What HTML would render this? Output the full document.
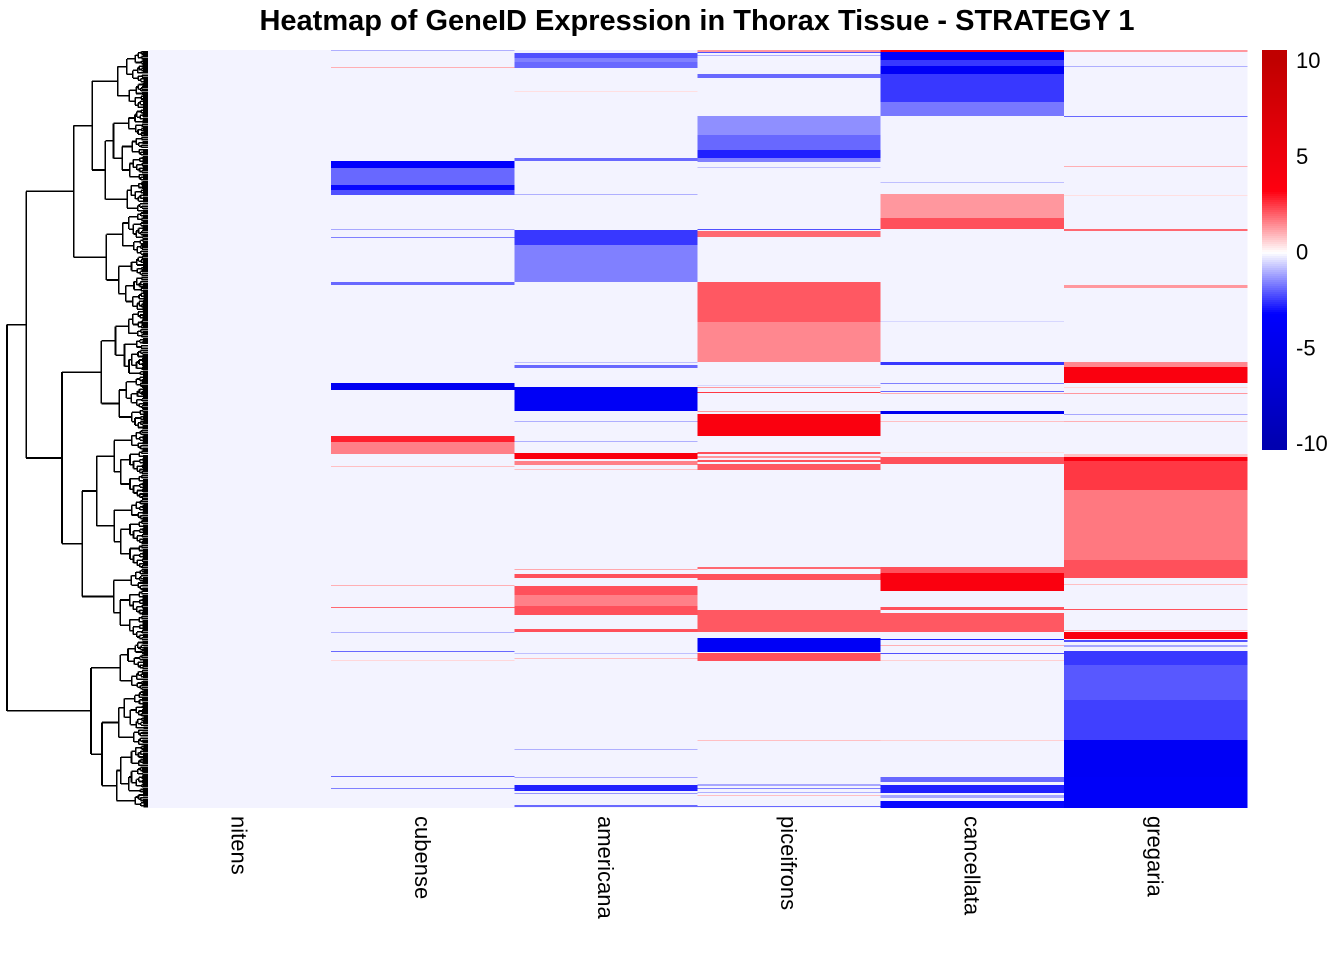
<!DOCTYPE html>
<html><head><meta charset="utf-8"><style>
body{margin:0;background:#fff;width:1344px;height:960px;overflow:hidden}
svg text{font-family:"Liberation Sans",Arial,sans-serif}
</style></head><body>
<svg id="chart" width="1344" height="960" xmlns="http://www.w3.org/2000/svg" shape-rendering="crispEdges">
<text x="697" y="30" text-anchor="middle" font-size="29" font-weight="bold">Heatmap of GeneID Expression in Thorax Tissue - STRATEGY 1</text>
<g id="dendro"></g>
<g id="cells"></g>
<g id="collabels"></g>
<g id="legend"></g>
</svg>
<script>
const columns = ["nitens","cubense","americana","piceifrons","cancellata","gregaria"];
const nRows = 758;
const baseline = -0.15;
const runsNitens = [];
const runsCubense = [[0,1,-1],[17,18,1],[111,118,-3.4],[118,135,-1.9],[135,140,-3.1],[140,145,-2.2],[179,180,-1.1],[187,188,-1.6],[232,235,-1.9],[333,340,-4.3],[386,392,2.8],[392,404,1.6],[416,417,0.8],[535,536,1],[557,558,1.9],[582,583,-1],[601,602,-1.9],[610,611,0.5],[726,727,-1.9],[738,739,-1.6]];
const runsAmericana = [[3,8,-2.2],[8,12,-1.6],[12,18,-1.9],[41,42,0.4],[108,111,-1.9],[144,145,-1],[180,195,-2.5],[195,232,-1.6],[312,313,-0.8],[315,318,-1.9],[337,361,-4],[371,372,-1],[391,392,-1],[403,409,3.7],[411,415,1.6],[419,420,0.8],[519,520,1.1],[524,528,2.2],[536,545,2.2],[545,556,1.6],[556,565,2.2],[579,582,2.2],[603,604,-0.8],[608,609,0.8],[699,700,-1],[727,728,-1.1],[735,741,-2.8],[743,744,-1.3],[755,757,-1.9]];
const runsPiceifrons = [[0,2,1.3],[2,3,-2.2],[5,6,-1],[24,28,-1.9],[66,85,-1.4],[85,100,-1.9],[100,108,-2.8],[108,112,-1.6],[117,118,-0.8],[179,180,-2.2],[181,187,1.9],[232,272,2.1],[272,312,1.5],[335,336,-0.5],[337,338,1.3],[342,343,2.5],[361,362,1.3],[364,386,3.7],[402,404,2.2],[406,408,1.3],[410,412,2.2],[414,420,2.1],[517,519,1.9],[524,530,2.2],[560,582,2.1],[588,602,-4],[603,611,2.2],[690,691,0.8],[734,736,-1.1],[738,739,-1.6],[742,743,-1],[745,746,0.8],[756,757,-1.9]];
const runsCancellata = [[0,2,3.4],[2,10,-3.4],[10,16,-2.5],[16,24,-4],[24,52,-2.5],[52,66,-1.7],[132,133,-0.8],[144,168,1.3],[168,179,2.2],[271,272,-0.5],[312,315,-2.5],[333,334,-1.6],[341,342,-1.9],[343,344,1],[361,364,-4.6],[371,372,0.8],[402,403,0.4],[407,414,2.2],[517,523,2.2],[523,541,3.7],[557,560,2.2],[563,582,2.1],[589,590,-2.8],[595,596,1],[603,604,-2.2],[610,611,0.6],[690,691,0.6],[727,732,-1.9],[735,743,-2.8],[745,748,-1.1],[751,758,-3.1]];
const runsGregaria = [[0,2,1.3],[16,17,-1],[66,67,-1.9],[116,117,1],[145,146,0.4],[179,181,1.9],[235,238,1.3],[312,317,1.5],[317,333,3.7],[337,338,0.5],[343,344,1.3],[364,365,-1.1],[371,372,1],[404,407,0.8],[407,411,3.7],[411,440,2.5],[440,510,1.7],[510,528,2.2],[534,535,0.8],[559,560,2.2],[580,581,0.8],[582,589,3.7],[590,592,-2.2],[595,597,-1.1],[601,615,-2.5],[615,650,-2.1],[650,690,-2.4],[690,727,-4],[727,758,-3.7]];
const legendTicks = [10,5,0,-5,-10];

const NS="http://www.w3.org/2000/svg";
const allRuns=[runsNitens,runsCubense,runsAmericana,runsPiceifrons,runsCancellata,runsGregaria];
const X0=148,X1=1247,Y0=50,Y1=808;
const colW=(X1-X0)/columns.length;
function xCol(i){return X0+i*colW;}
function yRow(r){return Y0+r*(Y1-Y0)/nRows;}
function lerp(a,b,t){return Math.round(a+(b-a)*t);}
function color(v){
  v=Math.max(-10,Math.min(10,v));
  let c;
  if(v>=0){ if(v<=3.2){const t=v/3.2;c=[255,lerp(255,0,t),lerp(255,16,t)];}
    else{const t=(v-3.2)/6.8;c=[lerp(255,192,t),0,lerp(16,0,t)];}}
  else{const a=-v; if(a<=3.2){const t=a/3.2;c=[lerp(255,0,t),lerp(255,0,t),255];}
    else{const t=(a-3.2)/6.8;c=[0,0,lerp(255,176,t)];}}
  return `rgb(${c[0]},${c[1]},${c[2]})`;
}
function mk(tag,attrs,parent){const e=document.createElementNS(NS,tag);for(const k in attrs)e.setAttribute(k,attrs[k]);parent.appendChild(e);return e;}

const cells=document.getElementById('cells');
columns.forEach((name,i)=>{
  const bg=mk('rect',{x:xCol(i),y:Y0,width:colW+0.5,height:Y1-Y0,fill:color(baseline)},cells);
  
  
  allRuns[i].forEach(r=>{
    const y=yRow(r[0]),h=Math.max(1,yRow(r[1])-y);
    const e=mk('rect',{x:xCol(i),y:y,width:colW+0.5,height:h,fill:color(r[2])},cells);
    
    
  });
});

const cl=document.getElementById('collabels');
columns.forEach((name,i)=>{
  const cx=xCol(i)+colW/2;
  const t=mk('text',{x:0,y:0,'font-size':22,transform:`translate(${cx-8},816) rotate(90)`},cl);
  t.textContent=name;
  
  
});

const lg=document.getElementById('legend');
const LX=1262,LW=25,LY0=50,LY1=450;
function yLeg(v){return 251.5 - v*19.15;}
for(let p=LY0;p<LY1;p+=2){
  const v=(251.5-p)/19.15;
  const e=mk('rect',{x:LX,y:p,width:LW,height:2,fill:color(v)},lg);
  
  
}
legendTicks.forEach(v=>{
  const t=mk('text',{x:1296,y:yLeg(v)+8,'font-size':22},lg);
  t.textContent=String(v);
  
  
});

const dg=document.getElementById('dendro');
let d="";
const fr=[0.78,0.44,0.62,0.36,0.55,0.42,0.66,0.5,0.3,0.58,0.47,0.7,0.38,0.52];
let k=0;
function xFor(span){return Math.max(7,148-2.65*Math.pow(span,0.6));}
function node(y0,y1){
  const span=y1-y0;
  if(span<2.5) { return (y0+y1)/2; }
  const x=xFor(span);
  const f=fr[k++%fr.length];
  const ym=y0+span*f;
  const c1=node(y0,ym), c2=node(ym,y1);
  const x1=span*f<2.5?148:xFor(span*f), x2=span*(1-f)<2.5?148:xFor(span*(1-f));
  d+=`M${x} ${c1}V${c2}M${x} ${c1}H${x1}M${x} ${c2}H${x2}`;
  return (c1+c2)/2;
}
node(Y0+1,Y1-1);
const pth=mk('path',{d:d,stroke:'#000','stroke-width':1.6,fill:'none'},dg);


</script>
</body></html>
